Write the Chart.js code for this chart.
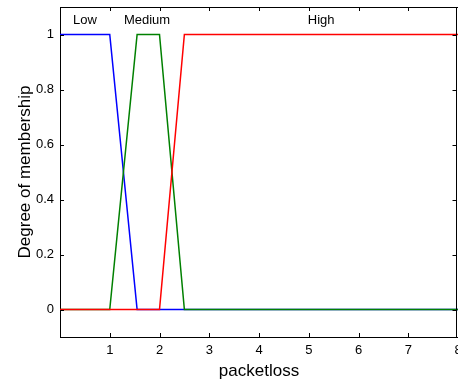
<!DOCTYPE html>
<html>
<head>
<meta charset="utf-8">
<script src="https://cdn.jsdelivr.net/npm/chart.js@4"></script>
<style>
  body { margin: 0; background: #fff; }
  canvas { display: block; }
</style>
</head>
<body>
<canvas id="mfplot" width="458" height="383"></canvas>
<script>
// membership functions of "packetloss"
const lowX = [0, 1, 1.55, 8];
const lowY = [1, 1, 0, 0];
const mediumX = [0, 1, 1.55, 2, 2.5, 8];
const mediumY = [0, 0, 1, 1, 0, 0];
const highX = [0, 2, 2.5, 8];
const highY = [0, 0, 1, 1];

// labels written above each mf
const mfNames = ['Low', 'Medium', 'High'];
const mfNameX = [0.5, 1.75, 5.25];
const mfNameY = 1.05;

const xTicks = [1, 2, 3, 4, 5, 6, 7, 8];
const yTicks = [0, 0.2, 0.4, 0.6, 0.8, 1];

function pts(xs, ys) {
    return xs.map((x, i) => ({x: x, y: ys[i]}));
}

// box round the plot with inward ticks, like matlab
const boxPlugin = {
    id: 'box',
    afterDatasetsDraw(chart) {
        const ctx = chart.ctx;
        const a = chart.chartArea;
        const xs = chart.scales.x, ys = chart.scales.y;
        ctx.save();
        ctx.strokeStyle = '#000';
        ctx.lineWidth = 1;
        ctx.beginPath();
        ctx.moveTo(a.left, a.top + 0.5);
        ctx.lineTo(a.right, a.top + 0.5);
        ctx.moveTo(a.right - 1.5, a.top);
        ctx.lineTo(a.right - 1.5, a.bottom);
        xTicks.forEach(v => {
            const px = Math.round(xs.getPixelForValue(v)) + 0.5;
            ctx.moveTo(px, a.bottom); ctx.lineTo(px, a.bottom - 4);
            ctx.moveTo(px, a.top); ctx.lineTo(px, a.top + 4);
        });
        yTicks.forEach(v => {
            const py = Math.round(ys.getPixelForValue(v)) + 0.5;
            ctx.moveTo(a.left, py); ctx.lineTo(a.left + 4, py);
            ctx.moveTo(a.right - 1.5, py); ctx.lineTo(a.right - 5.5, py);
        });
        ctx.stroke();
        // mf names
        ctx.fillStyle = '#000';
        ctx.font = '13px "Liberation Sans", Arial, sans-serif';
        ctx.textAlign = 'center';
        ctx.textBaseline = 'middle';
        mfNames.forEach((n, i) => {
            ctx.fillText(n, xs.getPixelForValue(mfNameX[i]), ys.getPixelForValue(mfNameY));
        });
        ctx.restore();
    }
};

window.addEventListener('load', function () {
    const ctx = document.getElementById('mfplot').getContext('2d');
    const font = {family: '"Liberation Sans", Arial, sans-serif', size: 13};
    new Chart(ctx, {
        type: 'scatter',
        data: {
            // lowest order is drawn last (on top): red, then green, then blue
            datasets: [
                {label: 'Low', data: pts(lowX, lowY), borderColor: '#0000ff', order: 3},
                {label: 'Medium', data: pts(mediumX, mediumY), borderColor: '#008000', order: 2},
                {label: 'High', data: pts(highX, highY), borderColor: '#ff0000', order: 1}
            ].map(d => Object.assign(d, {showLine: true, pointRadius: 0, borderWidth: 1.5, fill: false}))
        },
        options: {
            responsive: false,
            animation: false,
            layout: {padding: {top: 7, right: 0, left: 0, bottom: 0}},
            plugins: {legend: {display: false}, tooltip: {enabled: false}},
            scales: {
                x: {
                    type: 'linear', min: 0, max: 8,
                    afterBuildTicks: s => { s.ticks = xTicks.map(v => ({value: v})); },
                    afterFit: s => { s.height = 46; s.paddingLeft = 0; s.paddingRight = 0; },
                    grid: {display: false, drawTicks: false},
                    border: {display: true, color: '#000', width: 1},
                    ticks: {color: '#000', font: font, padding: 6, maxRotation: 0, autoSkip: false},
                    title: {display: true, text: 'packetloss', color: '#000',
                        font: {family: font.family, size: 17}, padding: {top: 0, bottom: 1}}
                },
                y: {
                    type: 'linear', min: -0.1, max: 1.1,
                    afterBuildTicks: s => { s.ticks = yTicks.map(v => ({value: v})); },
                    afterFit: s => { s.width = 60; s.paddingTop = 0; s.paddingBottom = 0; },
                    grid: {display: false, drawTicks: false},
                    border: {display: true, color: '#000', width: 1},
                    ticks: {color: '#000', font: font, padding: 6, autoSkip: false,
                        callback: v => String(+v.toFixed(1))},
                    title: {display: true, text: 'Degree of membership', color: '#000',
                        font: {family: font.family, size: 17}, padding: {top: 15, bottom: 0}}
                }
            }
        },
        plugins: [boxPlugin]
    });
});
</script>
</body>
</html>
